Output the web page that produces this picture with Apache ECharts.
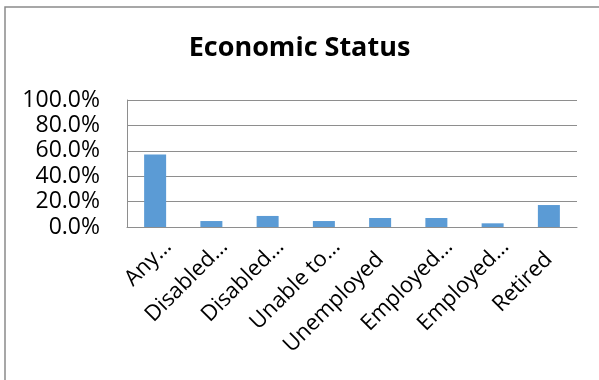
<!DOCTYPE html>
<html>
<head>
<meta charset="utf-8">
<script src="https://cdn.jsdelivr.net/npm/echarts@6/dist/echarts.min.js"></script>
<style>
  html, body { margin: 0; padding: 0; background: #fff; }
  #chart { width: 599px; height: 380px; }
</style>
</head>
<body>
<div id="chart"></div>
<script>
const categories = ['Any…', 'Disabled…', 'Disabled…', 'Unable to…', 'Unemployed', 'Employed…', 'Employed…', 'Retired']
const shares = [0.57, 0.047, 0.087, 0.047, 0.071, 0.071, 0.029, 0.173]
const yTicks = { min: 0, max: 1, interval: 0.2 }

const chart = echarts.init(document.getElementById('chart'))
const fontFamily = '"Open Sans", "Noto Sans", sans-serif'

// truncated labels sit a little further along their slant, like the original
const categoryItems = categories.map((name) =>
  name.endsWith('…') ? { value: name, textStyle: { padding: [0, -18, 0, 0] } } : name,
)

chart.setOption({
  animation: false,
  title: {
    text: 'Economic Status',
    left: 'center',
    top: 30,
    textStyle: { fontFamily, fontWeight: 'bold', fontSize: 27, color: '#000' },
  },
  graphic: [
    {
      type: 'polyline',
      shape: { points: [[5, 400], [5, 7], [620, 7]] },
      style: { stroke: '#8a8a8a', lineWidth: 1.5, fill: null },
      silent: true,
    },
  ],
  grid: { left: 127, right: 22, top: 100, bottom: 153 },
  xAxis: {
    type: 'category',
    data: categoryItems,
    axisLine: { show: true, lineStyle: { color: '#8e8e8e', width: 1 } },
    axisTick: { show: false },
    axisLabel: {
      rotate: 45,
      interval: 0,
      margin: 29,
      fontFamily,
      fontSize: 22,
      color: '#000',
    },
  },
  yAxis: {
    type: 'value',
    min: yTicks.min,
    max: yTicks.max,
    interval: yTicks.interval,
    axisLine: { show: true, lineStyle: { color: '#8e8e8e', width: 1 } },
    axisTick: { show: false },
    splitLine: { lineStyle: { color: '#8e8e8e', width: 1 } },
    axisLabel: {
      margin: 27,
      fontFamily,
      fontSize: 23,
      color: '#000',
      formatter: (v) => (v * 100).toFixed(1) + '%',
    },
  },
  series: [
    {
      type: 'bar',
      data: shares,
      barWidth: 22,
      itemStyle: { color: '#5b9bd5' },
    },
  ],
})
</script>
</body>
</html>
